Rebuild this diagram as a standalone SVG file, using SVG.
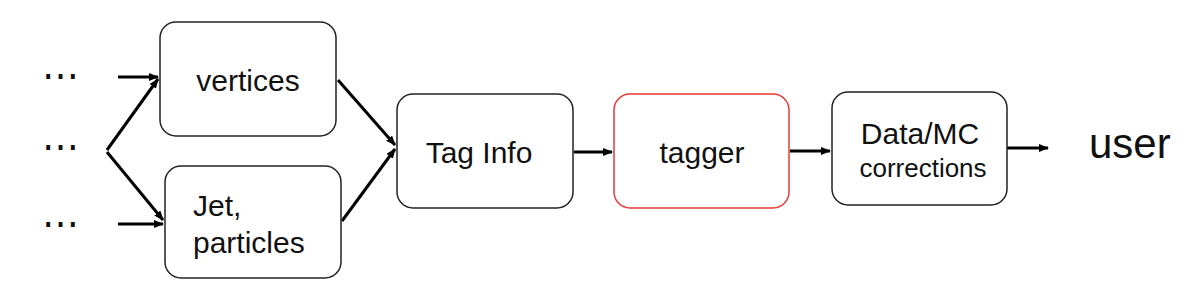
<svg xmlns="http://www.w3.org/2000/svg" width="1200" height="294" viewBox="0 0 1200 294">
<defs>
<marker id="ah" markerWidth="10" markerHeight="8" refX="9" refY="4" orient="auto" markerUnits="userSpaceOnUse">
<path d="M0,0 L10,4 L0,8 Z" fill="#000"/>
</marker>
<style>
.box{fill:#fff;stroke:#222;stroke-width:1.5}
.red{fill:#fff;stroke:#e53935;stroke-width:1.5}
.t{font-family:"Liberation Sans",Arial,sans-serif;fill:#111}
.c{stroke:#000;stroke-width:3;fill:none;marker-end:url(#ah)}
</style>
</defs>
<rect width="1200" height="294" fill="#fff"/>
<g id="dots" class="t" font-size="37">
<text x="42" y="88">⋯</text>
<text x="42" y="159">⋯</text>
<text x="42" y="236">⋯</text>
</g>
<g id="connectors">
<path class="c" d="M118,77 H158"/>
<path class="c" d="M118,224 H163"/>
<path class="c" d="M107,150 L158,79"/>
<path class="c" d="M107,152 L163,220"/>
<path class="c" d="M338,80 L395,145"/>
<path class="c" d="M342,221 L395,149"/>
<path class="c" d="M574,152 H612"/>
<path class="c" d="M790,151 H830"/>
<path class="c" d="M1007,148 H1048"/>
</g>
<g id="vertices">
<rect class="box" x="160" y="22" width="176" height="114" rx="16"/>
<text class="t" x="248" y="91" font-size="30" text-anchor="middle">vertices</text>
</g>
<g id="jet">
<rect class="box" x="165" y="166" width="176" height="112" rx="16"/>
<text class="t" x="193" y="216" font-size="30">Jet,</text>
<text class="t" x="193" y="253" font-size="30">particles</text>
</g>
<g id="taginfo">
<rect class="box" x="397" y="94" width="176" height="114" rx="16"/>
<text class="t" x="479" y="163" font-size="30" text-anchor="middle">Tag Info</text>
</g>
<g id="tagger">
<rect class="red" x="614" y="94" width="175" height="114" rx="16"/>
<text class="t" x="702" y="163" font-size="30" text-anchor="middle">tagger</text>
</g>
<g id="datamc">
<rect class="box" x="832" y="92" width="175" height="113" rx="16"/>
<text class="t" x="920" y="144" font-size="30" text-anchor="middle">Data/MC</text>
<text class="t" x="923" y="177" font-size="26" text-anchor="middle">corrections</text>
</g>
<g id="user">
<text class="t" x="1089" y="158" font-size="42">user</text>
</g>
</svg>
